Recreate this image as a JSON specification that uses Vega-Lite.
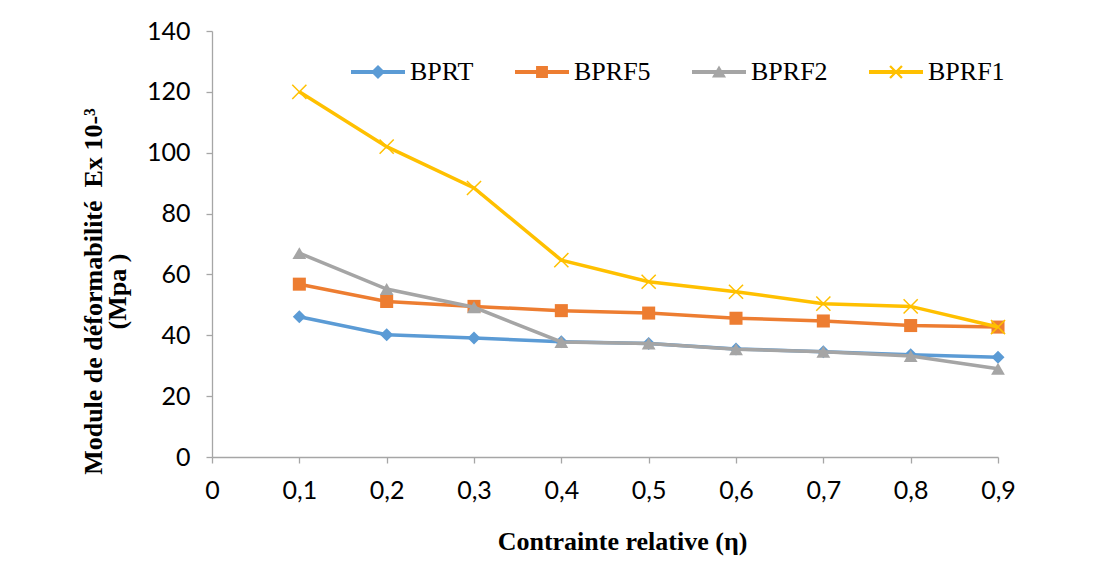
{
  "$schema": "https://vega.github.io/schema/vega-lite/v6.json",
  "width": 786,
  "height": 426,
  "autosize": {"type": "none"},
  "padding": {"left": 212, "top": 31, "right": 112, "bottom": 120},
  "background": "white",
  "config": {
    "view": {"stroke": null},
    "axis": {
      "grid": false,
      "domainColor": "#a6a6a6",
      "tickColor": "#a6a6a6",
      "domainWidth": 1.3,
      "tickWidth": 1.3,
      "tickSize": 6,
      "labelFont": "Lato",
      "labelFontSize": 25,
      "labelColor": "#000000",
      "titleFont": "Liberation Serif",
      "titleFontWeight": "bold",
      "titleFontSize": 26,
      "titleColor": "#000000"
    }
  },
  "datasets": {
    "pts": [
      {"x": 0.1, "series": "BPRT", "value": 46.1},
      {"x": 0.2, "series": "BPRT", "value": 40.2},
      {"x": 0.3, "series": "BPRT", "value": 39.1},
      {"x": 0.4, "series": "BPRT", "value": 37.9},
      {"x": 0.5, "series": "BPRT", "value": 37.3},
      {"x": 0.6, "series": "BPRT", "value": 35.5},
      {"x": 0.7, "series": "BPRT", "value": 34.6},
      {"x": 0.8, "series": "BPRT", "value": 33.6},
      {"x": 0.9, "series": "BPRT", "value": 32.8},
      {"x": 0.1, "series": "BPRF5", "value": 56.8},
      {"x": 0.2, "series": "BPRF5", "value": 51.1},
      {"x": 0.3, "series": "BPRF5", "value": 49.5},
      {"x": 0.4, "series": "BPRF5", "value": 48.1},
      {"x": 0.5, "series": "BPRF5", "value": 47.3},
      {"x": 0.6, "series": "BPRF5", "value": 45.6},
      {"x": 0.7, "series": "BPRF5", "value": 44.7},
      {"x": 0.8, "series": "BPRF5", "value": 43.2},
      {"x": 0.9, "series": "BPRF5", "value": 42.7},
      {"x": 0.1, "series": "BPRF2", "value": 67.0},
      {"x": 0.2, "series": "BPRF2", "value": 55.2},
      {"x": 0.3, "series": "BPRF2", "value": 49.2},
      {"x": 0.4, "series": "BPRF2", "value": 37.8},
      {"x": 0.5, "series": "BPRF2", "value": 37.3},
      {"x": 0.6, "series": "BPRF2", "value": 35.4},
      {"x": 0.7, "series": "BPRF2", "value": 34.6},
      {"x": 0.8, "series": "BPRF2", "value": 33.2},
      {"x": 0.9, "series": "BPRF2", "value": 29.0},
      {"x": 0.1, "series": "BPRF1", "value": 120.0},
      {"x": 0.2, "series": "BPRF1", "value": 102.0},
      {"x": 0.3, "series": "BPRF1", "value": 88.4},
      {"x": 0.4, "series": "BPRF1", "value": 64.7},
      {"x": 0.5, "series": "BPRF1", "value": 57.6},
      {"x": 0.6, "series": "BPRF1", "value": 54.3},
      {"x": 0.7, "series": "BPRF1", "value": 50.4},
      {"x": 0.8, "series": "BPRF1", "value": 49.5},
      {"x": 0.9, "series": "BPRF1", "value": 42.7}
    ]
  },
  "data": {"name": "pts"},
  "encoding": {
    "x": {
      "field": "x",
      "type": "quantitative",
      "scale": {"domain": [0, 0.9], "nice": false, "zero": false},
      "axis": {
        "values": [0, 0.1, 0.2, 0.3, 0.4, 0.5, 0.6, 0.7, 0.8, 0.9],
        "labelExpr": "datum.value == 0 ? '0' : replace(format(datum.value, '.1f'), '.', ',')",
        "labelPadding": 15,
        "labelFlush": false,
        "title": "Contrainte relative (η)",
        "titleX": 410,
        "titleY": 92,
        "titleBaseline": "alphabetic"
      }
    },
    "y": {
      "field": "value",
      "type": "quantitative",
      "scale": {"domain": [0, 140], "nice": false},
      "axis": {
        "values": [0, 20, 40, 60, 80, 100, 120, 140],
        "labelPadding": 16,
        "title": ["Module de déformabilité\u00a0 Ex 10-³", "(Mpa )"],
        "titleX": -106,
        "titleY": 260,
        "titleAnchor": "middle",
        "titleBaseline": "bottom",
        "titleLineHeight": 24
      }
    }
  },
  "layer": [
    {
      "transform": [{"filter": "datum.series == 'BPRT'"}],
      "mark": {"type": "line", "stroke": "#5b9bd5", "strokeWidth": 3.5}
    },
    {
      "transform": [{"filter": "datum.series == 'BPRT'"}],
      "mark": {"type": "point", "shape": "diamond", "filled": true, "fill": "#5b9bd5", "opacity": 1, "size": 170, "strokeWidth": 0}
    },
    {
      "transform": [{"filter": "datum.series == 'BPRF5'"}],
      "mark": {"type": "line", "stroke": "#ed7d31", "strokeWidth": 3.5}
    },
    {
      "transform": [{"filter": "datum.series == 'BPRF5'"}],
      "mark": {"type": "point", "shape": "square", "filled": true, "fill": "#ed7d31", "opacity": 1, "size": 170, "strokeWidth": 0}
    },
    {
      "transform": [{"filter": "datum.series == 'BPRF2'"}],
      "mark": {"type": "line", "stroke": "#a5a5a5", "strokeWidth": 3.5}
    },
    {
      "transform": [{"filter": "datum.series == 'BPRF2'"}],
      "mark": {"type": "point", "shape": "triangle-up", "filled": true, "fill": "#a5a5a5", "opacity": 1, "size": 190, "strokeWidth": 0}
    },
    {
      "transform": [{"filter": "datum.series == 'BPRF1'"}],
      "mark": {"type": "line", "stroke": "#ffc000", "strokeWidth": 3.5}
    },
    {
      "transform": [{"filter": "datum.series == 'BPRF1'"}],
      "mark": {"type": "point", "shape": "M-1,-1L1,1M-1,1L1,-1", "filled": false, "stroke": "#ffc000", "opacity": 1, "size": 200, "strokeWidth": 1.5}
    },
    {
      "transform": [{"filter": "false"}],
      "mark": {"type": "point", "filled": true, "opacity": 1},
      "encoding": {
        "color": {
          "field": "series",
          "type": "nominal",
          "scale": {"domain": ["BPRT", "BPRF5", "BPRF2", "BPRF1"], "range": ["#5b9bd5", "#ed7d31", "#a5a5a5", "#ffc000"]},
          "legend": {
            "orient": "none",
            "legendX": 139,
            "legendY": 14,
            "direction": "horizontal",
            "title": null,
            "symbolSize": 2916,
            "symbolStrokeWidth": 0,
            "symbolOpacity": 1,
            "labelFont": "Liberation Serif",
            "labelFontSize": 26,
            "labelColor": "#000000",
            "labelOffset": 5,
            "columnPadding": 41
          }
        },
        "shape": {
          "field": "series",
          "type": "nominal",
          "scale": {
            "domain": ["BPRT", "BPRF5", "BPRF2", "BPRF1"],
            "range": [
              "M-1,-0.075L1,-0.075L1,0.075L-1,0.075Z M0,-0.26L0.26,0L0,0.26L-0.26,0Z",
              "M-1,-0.075L1,-0.075L1,0.075L-1,0.075Z M-0.22,-0.22L0.22,-0.22L0.22,0.22L-0.22,0.22Z",
              "M-1,-0.075L1,-0.075L1,0.075L-1,0.075Z M0,-0.24L0.26,0.2L-0.26,0.2Z",
              "M-1,-0.075L1,-0.075L1,0.075L-1,0.075Z M-0.19,-0.25L0.25,0.19L0.19,0.25L-0.25,-0.19Z M0.25,-0.19L-0.19,0.25L-0.25,0.19L0.19,-0.25Z"
            ]
          },
          "legend": {
            "orient": "none",
            "legendX": 139,
            "legendY": 14,
            "direction": "horizontal",
            "title": null,
            "symbolSize": 2916,
            "symbolStrokeWidth": 0,
            "symbolOpacity": 1,
            "labelFont": "Liberation Serif",
            "labelFontSize": 26,
            "labelColor": "#000000",
            "labelOffset": 5,
            "columnPadding": 41
          }
        }
      }
    }
  ]
}
